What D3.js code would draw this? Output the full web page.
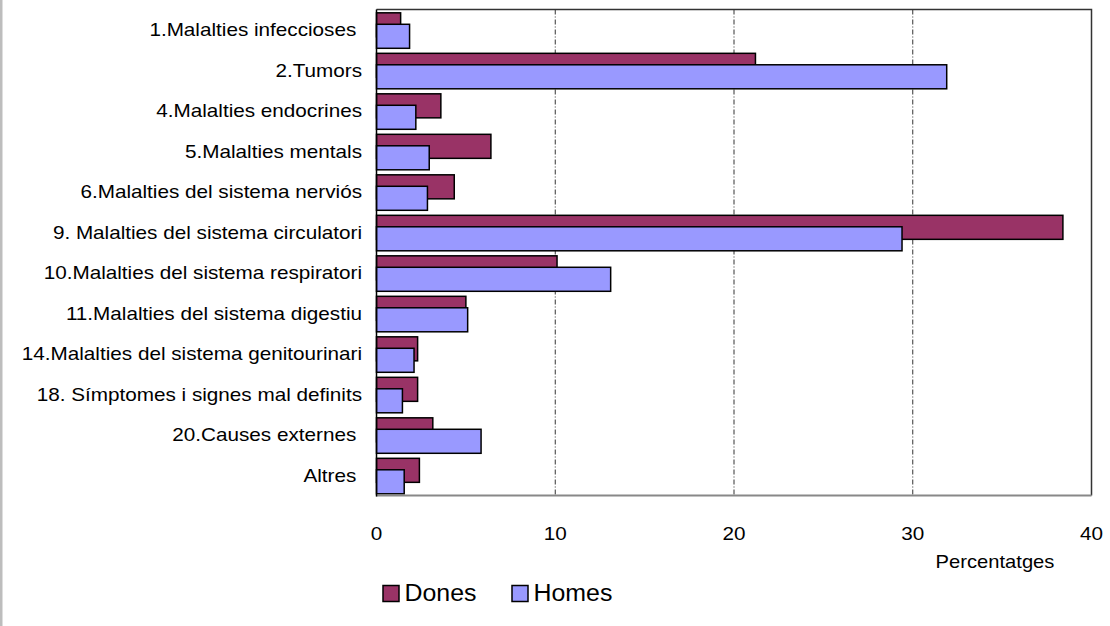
<!DOCTYPE html>
<html>
<head>
<meta charset="utf-8">
<script src="https://cdn.jsdelivr.net/npm/d3@7"></script>
<style>
  html, body { margin: 0; padding: 0; background: #fff; }
  svg { display: block; }
  text { font-family: "Liberation Sans", Arial, sans-serif; fill: #000; white-space: pre; }
</style>
</head>
<body>
<svg id="chart" width="1110" height="626"></svg>
<script>
const categories = [
  "1.Malalties infeccioses ",
  "2.Tumors",
  "4.Malalties endocrines",
  "5.Malalties mentals",
  "6.Malalties del sistema nerviós",
  "9. Malalties del sistema circulatori",
  "10.Malalties del sistema respiratori",
  "11.Malalties del sistema digestiu",
  "14.Malalties del sistema genitourinari",
  "18. Símptomes i signes mal definits",
  "20.Causes externes ",
  "Altres "
];
const dones = [1.35, 21.2, 3.6, 6.4, 4.35, 38.4, 10.1, 5.0, 2.3, 2.3, 3.15, 2.4];
const homes = [1.85, 31.9, 2.2, 2.95, 2.85, 29.4, 13.1, 5.1, 2.1, 1.45, 5.85, 1.55];
const xTicks = [0, 10, 20, 30, 40];
const seriesNames = ["Dones", "Homes"];
const seriesColors = ["#993366", "#9999FF"];

const svg = d3.select("#chart");

// left grey strip
svg.append("rect").attr("x", 0).attr("y", 0).attr("width", 2.5).attr("height", 626).attr("fill", "#bdbdbd");

const x = d3.scaleLinear().domain([0, 40]).range([376.5, 1091.5]);
const y = d3.scaleBand().domain(categories).range([9.5, 495.5]).paddingInner(0).paddingOuter(0);
const bw = y.bandwidth();

const g = svg.append("g");

// gridlines
g.selectAll("line.grid").data(xTicks.filter(t => t > 0 && t < 40)).enter().append("line")
  .attr("class", "grid")
  .attr("x1", d => x(d)).attr("x2", d => x(d))
  .attr("y1", y.range()[0]).attr("y2", y.range()[1])
  .attr("stroke", "#333").attr("stroke-width", 1)
  .attr("stroke-dasharray", "5,2,1,2");

// frame top/right
g.append("path")
  .attr("d", `M${x(0)},${y.range()[0]}H${x(40)}V${y.range()[1]}`)
  .attr("fill", "none").attr("stroke", "#333").attr("stroke-width", 1.5);

const barH = bw * 0.593;
const offD = bw * 0.082;
const offH = bw * 0.365;

const data = categories.map((c, i) => ({c, d: dones[i], h: homes[i]}));

// Dones bars
g.selectAll("rect.dones").data(data).enter().append("rect")
  .attr("class", "dones")
  .attr("x", x(0))
  .attr("y", d => y(d.c) + offD)
  .attr("width", d => x(d.d) - x(0))
  .attr("height", barH)
  .attr("fill", seriesColors[0]).attr("stroke", "#000").attr("stroke-width", 1.5);

// Homes bars
g.selectAll("rect.homes").data(data).enter().append("rect")
  .attr("class", "homes")
  .attr("x", x(0))
  .attr("y", d => y(d.c) + offH)
  .attr("width", d => x(d.h) - x(0))
  .attr("height", barH)
  .attr("fill", seriesColors[1]).attr("stroke", "#000").attr("stroke-width", 1.5);

// bottom axis line
g.append("line").attr("x1", x(0) - 0.5).attr("x2", x(40)).attr("y1", y.range()[1]).attr("y2", y.range()[1])
  .attr("stroke", "#888").attr("stroke-width", 2);
// left axis line
g.append("line").attr("x1", x(0)).attr("x2", x(0)).attr("y1", y.range()[0]).attr("y2", y.range()[1] + 1)
  .attr("stroke", "#000").attr("stroke-width", 1.5);

// x tick labels
g.selectAll("text.xt").data(xTicks).enter().append("text")
  .attr("class", "xt")
  .attr("transform", d => `translate(${x(d)},539.5) scale(1.15,1)`)
  .attr("text-anchor", "middle")
  .attr("font-size", 18)
  .text(d => d);

// category labels
g.selectAll("text.cat").data(categories).enter().append("text")
  .attr("class", "cat")
  .attr("transform", d => `translate(362,${y(d) + bw / 2 + 6.5}) scale(1.15,1)`)
  .attr("text-anchor", "end")
  .attr("font-size", 18)
  .text(d => d);

// axis title
svg.append("text")
  .attr("transform", "translate(995,568) scale(1.12,1)")
  .attr("text-anchor", "middle")
  .attr("font-size", 18)
  .text("Percentatges");

// legend
const legX = [383, 512];
const lg = svg.append("g");
seriesNames.forEach((n, i) => {
  lg.append("rect").attr("x", legX[i]).attr("y", 585.5).attr("width", 16).attr("height", 16)
    .attr("fill", seriesColors[i]).attr("stroke", "#000").attr("stroke-width", 1.5);
  lg.append("text")
    .attr("transform", `translate(${legX[i] + 21.5},600.5) scale(1.06,1)`)
    .attr("font-size", 23.5)
    .text(n);
});
</script>
</body>
</html>
